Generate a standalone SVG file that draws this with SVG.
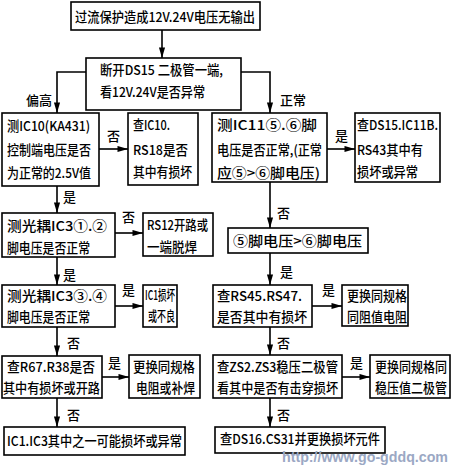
<svg xmlns="http://www.w3.org/2000/svg" width="456" height="466" viewBox="0 0 456 466">
<defs>
<marker id="ah" viewBox="0 0 12 8" refX="12" refY="4" markerWidth="12" markerHeight="7" markerUnits="userSpaceOnUse" orient="auto">
<path d="M0,0.5 L12,4 L0,7.5 Z" fill="#000"/>
</marker>
<style>
.b{fill:#fff;stroke:#000;stroke-width:1.6}
.t{font-family:"Noto Sans CJK SC","Noto Sans CJK JP",sans-serif;font-size:13.5px;font-weight:500;fill:#000}
.l{font-family:"Noto Sans CJK SC","Noto Sans CJK JP",sans-serif;font-size:13px;font-weight:500;fill:#000}
.c{fill:none;stroke:#000;stroke-width:1.6;marker-end:url(#ah)}
</style>
</defs>
<rect width="456" height="466" fill="#fff"/>
<g id="connectors">
<path class="c" d="M162 30 V58"/>
<path class="c" d="M86 72 H57 V113"/>
<path class="c" d="M241 72 H270 V113"/>
<path class="c" d="M99 149 H128"/>
<path class="c" d="M327 149 H355"/>
<path class="c" d="M57 186 V213"/>
<path class="c" d="M115 233 H143"/>
<path class="c" d="M57 257 V285"/>
<path class="c" d="M115 306 H143"/>
<path class="c" d="M57 327 V356"/>
<path class="c" d="M102 377 H129"/>
<path class="c" d="M57 398 V427"/>
<path class="c" d="M270 182 V228"/>
<path class="c" d="M270 253 V285"/>
<path class="c" d="M312 306 H342"/>
<path class="c" d="M270 327 V355"/>
<path class="c" d="M342 377 H370"/>
<path class="c" d="M270 398 V427"/>
<g class="l">
<text x="26" y="105">偏高</text>
<text x="280" y="105">正常</text>
<text x="107" y="141">否</text>
<text x="335" y="141">是</text>
<text x="63" y="202">是</text>
<text x="122" y="222">否</text>
<text x="277" y="218">否</text>
<text x="63" y="280">是</text>
<text x="122" y="295">是</text>
<text x="280" y="277">是</text>
<text x="322" y="295">是</text>
<text x="67" y="348">否</text>
<text x="108" y="368">是</text>
<text x="277" y="348">否</text>
<text x="350" y="368">是</text>
<text x="67" y="420">否</text>
<text x="277" y="420">否</text>
</g>
</g>
<g id="n_top"><rect class="b" x="71" y="2" width="189" height="28"/><text class="t" x="75" y="22" textLength="180" lengthAdjust="spacingAndGlyphs">过流保护造成12V.24V电压无输出</text></g>
<g id="n_ds15"><rect class="b" x="86" y="58" width="155" height="52"/><text class="t" x="100" y="75" textLength="123" lengthAdjust="spacingAndGlyphs">断开DS15 二极管一端,</text><text class="t" x="100" y="97" textLength="105" lengthAdjust="spacingAndGlyphs">看12V.24V是否异常</text></g>
<g id="n_ic10"><rect class="b" x="2" y="113" width="97" height="73"/><text class="t" x="7" y="131" textLength="83" lengthAdjust="spacingAndGlyphs">测IC10(KA431)</text><text class="t" x="7" y="155" textLength="84" lengthAdjust="spacingAndGlyphs">控制端电压是否</text><text class="t" x="7" y="178" textLength="84" lengthAdjust="spacingAndGlyphs">为正常的2.5V值</text></g>
<g id="n_ic10chk"><rect class="b" x="128" y="113" width="70" height="72"/><text class="t" x="133" y="130" textLength="37" lengthAdjust="spacingAndGlyphs">查IC10.</text><text class="t" x="133" y="155" textLength="55" lengthAdjust="spacingAndGlyphs">RS18是否</text><text class="t" x="133" y="177" textLength="59" lengthAdjust="spacingAndGlyphs">其中有损坏</text></g>
<g id="n_ic11"><rect class="b" x="212" y="113" width="115" height="69"/><text class="t" x="217" y="130" textLength="100" lengthAdjust="spacingAndGlyphs">测IC11⑤.⑥脚</text><text class="t" x="217" y="155" textLength="105" lengthAdjust="spacingAndGlyphs">电压是否正常,(正常</text><text class="t" x="217" y="178" textLength="103" lengthAdjust="spacingAndGlyphs">应⑤&gt;⑥脚电压)</text></g>
<g id="n_ds15chk"><rect class="b" x="355" y="113" width="85" height="69"/><text class="t" x="357" y="130" textLength="81" lengthAdjust="spacingAndGlyphs">查DS15.IC11B.</text><text class="t" x="357" y="155" textLength="66" lengthAdjust="spacingAndGlyphs">RS43其中有</text><text class="t" x="357" y="177" textLength="61" lengthAdjust="spacingAndGlyphs">损坏或异常</text></g>
<g id="n_ic3a"><rect class="b" x="2" y="213" width="113" height="44"/><text class="t" x="7" y="231" textLength="100" lengthAdjust="spacingAndGlyphs">测光耦IC3①.②</text><text class="t" x="7" y="253" textLength="83" lengthAdjust="spacingAndGlyphs">脚电压是否正常</text></g>
<g id="n_rs12"><rect class="b" x="143" y="213" width="70" height="43"/><text class="t" x="147" y="230" textLength="61" lengthAdjust="spacingAndGlyphs">RS12开路或</text><text class="t" x="147" y="252" textLength="50" lengthAdjust="spacingAndGlyphs">一端脱焊</text></g>
<g id="n_pin56"><rect class="b" x="228" y="228" width="140" height="25"/><text class="t" x="233" y="246" textLength="129" lengthAdjust="spacingAndGlyphs">⑤脚电压&gt;⑥脚电压</text></g>
<g id="n_ic3b"><rect class="b" x="2" y="285" width="113" height="42"/><text class="t" x="7" y="301" textLength="100" lengthAdjust="spacingAndGlyphs">测光耦IC3③.④</text><text class="t" x="7" y="322" textLength="83" lengthAdjust="spacingAndGlyphs">脚电压是否正常</text></g>
<g id="n_ic1"><rect class="b" x="143" y="285" width="34" height="42"/><text class="t" x="145" y="300" textLength="30" lengthAdjust="spacingAndGlyphs">IC1损坏</text><text class="t" x="148" y="321" textLength="27" lengthAdjust="spacingAndGlyphs">或不良</text></g>
<g id="n_rs45"><rect class="b" x="213" y="285" width="99" height="42"/><text class="t" x="217" y="301" textLength="85" lengthAdjust="spacingAndGlyphs">查RS45.RS47.</text><text class="t" x="217" y="322" textLength="90" lengthAdjust="spacingAndGlyphs">是否其中有损坏</text></g>
<g id="n_res1"><rect class="b" x="342" y="285" width="66" height="41"/><text class="t" x="347" y="301" textLength="60" lengthAdjust="spacingAndGlyphs">更换同规格</text><text class="t" x="347" y="322" textLength="60" lengthAdjust="spacingAndGlyphs">同阻值电阻</text></g>
<g id="n_r67"><rect class="b" x="2" y="356" width="100" height="42"/><text class="t" x="7" y="372" textLength="88" lengthAdjust="spacingAndGlyphs">查R67.R38是否</text><text class="t" x="3" y="393" textLength="97" lengthAdjust="spacingAndGlyphs">其中有损坏或开路</text></g>
<g id="n_res2"><rect class="b" x="129" y="355" width="71" height="43"/><text class="t" x="133" y="372" textLength="62" lengthAdjust="spacingAndGlyphs">更换同规格</text><text class="t" x="136" y="393" textLength="59" lengthAdjust="spacingAndGlyphs">电阻或补焊</text></g>
<g id="n_zs"><rect class="b" x="213" y="355" width="129" height="43"/><text class="t" x="217" y="372" textLength="121" lengthAdjust="spacingAndGlyphs">查ZS2.ZS3稳压二极管</text><text class="t" x="217" y="393" textLength="121" lengthAdjust="spacingAndGlyphs">看其中是否有击穿损坏</text></g>
<g id="n_diode"><rect class="b" x="370" y="355" width="80" height="43"/><text class="t" x="375" y="372" textLength="72" lengthAdjust="spacingAndGlyphs">更换同规格同</text><text class="t" x="375" y="393" textLength="72" lengthAdjust="spacingAndGlyphs">稳压值二极管</text></g>
<g id="n_ic1ic3"><rect class="b" x="4" y="427" width="181" height="28"/><text class="t" x="7" y="446" textLength="175" lengthAdjust="spacingAndGlyphs">IC1.IC3其中之一可能损坏或异常</text></g>
<g id="n_ds16"><rect class="b" x="215" y="427" width="170" height="26"/><text class="t" x="220" y="444" textLength="160" lengthAdjust="spacingAndGlyphs">查DS16.CS31并更换损坏元件</text></g>
<text x="282" y="462" font-family="Liberation Sans, Arial, sans-serif" font-weight="bold" font-size="14" fill="#9ba8c4" textLength="166" lengthAdjust="spacingAndGlyphs">http://www.go-gddq.com</text>
</svg>
